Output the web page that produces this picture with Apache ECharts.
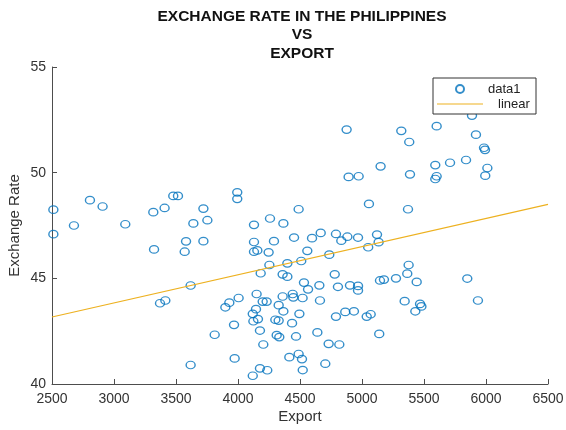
<!DOCTYPE html>
<html>
<head>
<meta charset="utf-8">
<script src="https://cdn.jsdelivr.net/npm/echarts@6/dist/echarts.min.js"></script>
<style>
html,body{margin:0;padding:0;background:#fff;}
#chart{width:566px;height:430px;}
</style>
</head>
<body>
<div id="chart"></div>
<script>
var titleLines = ['EXCHANGE RATE IN THE PHILIPPINES', 'VS', 'EXPORT'];
var xName = 'Export';
var yName = 'Exchange Rate';
var seriesNames = ['data1', 'linear'];

var exportVals = [
  2511, 2511, 2677, 2806, 2908, 3091, 3317, 3408, 3478, 3516,
  3640, 3721, 3753, 3323, 3581, 3570, 3721, 3618, 3371, 3414,
  3812, 3618, 3994, 3994, 4129, 4258, 4366, 4489, 4876, 4892,
  4973, 5150, 5056, 5887, 5317, 5602, 5381, 5919, 5984, 5992,
  5591, 5710, 5839, 6011, 5387, 5602, 5591, 5994, 5371, 4129,
  4129, 4156, 4290, 4247, 4452, 4597, 4667, 4790, 4833, 4882,
  4968, 5121, 5134, 5050, 4559, 4736, 4183, 4253, 4398, 4510,
  4360, 4398, 4780, 5145, 5177, 4532, 4565, 4656, 4806, 4903,
  4968, 4968, 4150, 4199, 4231, 4005, 3930, 3898, 4360, 4441,
  4446, 4521, 4661, 4328, 4145, 4366, 4119, 4161, 4124, 4301,
  4328, 4495, 4436, 4865, 4935, 4790, 5038, 5070, 3968, 4177,
  4640, 4312, 4333, 4468, 5139, 4204, 4731, 4817, 3973, 4414,
  4489, 4516, 4704, 4177, 4236, 4522, 4119, 5376, 5365, 5441,
  5274, 5849, 5344, 5468, 5479, 5430, 5935
];
var rateVals = [
  48.25, 47.09, 47.5, 48.7, 48.4, 47.56, 48.13, 48.33, 48.9, 48.9,
  47.6, 48.3, 47.75, 46.37, 46.75, 46.26, 46.76, 44.66, 43.82, 43.95,
  42.33, 40.9, 49.07, 48.76, 47.53, 47.83, 47.6, 48.27, 52.04, 49.8,
  49.83, 50.3, 48.52, 52.7, 51.98, 52.2, 51.45, 51.8, 51.18, 51.08,
  50.36, 50.47, 50.6, 50.22, 49.92, 49.83, 49.7, 49.86, 48.27, 46.72,
  46.26, 46.32, 46.76, 46.23, 46.93, 46.9, 47.15, 47.1, 46.78, 46.97,
  46.93, 47.07, 46.71, 46.47, 46.3, 46.12, 45.24, 45.63, 45.71, 45.82,
  45.19, 45.08, 45.19, 44.9, 44.94, 44.8, 44.48, 44.67, 44.6, 44.67,
  44.64, 44.43, 44.26, 43.9, 43.9, 44.07, 43.85, 43.63, 44.14, 44.26,
  44.1, 44.07, 43.95, 43.73, 43.54, 43.44, 43.32, 43.07, 42.97, 43.04,
  43.0, 43.32, 42.88, 43.41, 43.44, 43.19, 43.19, 43.3, 42.8, 42.53,
  42.44, 42.31, 42.22, 42.25, 42.37, 41.87, 41.9, 41.87, 41.21, 41.27,
  41.42, 41.18, 40.96, 40.74, 40.65, 40.66, 40.39, 45.63, 45.22, 44.83,
  45.0, 44.99, 43.92, 43.79, 43.67, 43.44, 43.95
];
var fitX = [2500, 6500];
var fitY = [43.17, 48.5];

var xTicks = {min: 2500, max: 6500, interval: 500};
var yTicks = {min: 40, max: 55, interval: 5};

var scatterData = exportVals.map(function (v, i) { return [v, rateVals[i]]; });
var lineData = fitX.map(function (v, i) { return [v, fitY[i]]; });

var FONT = '"Liberation Sans", Arial, Helvetica, sans-serif';
var AXIS_COLOR = '#4d4d4d';
var LABEL_COLOR = '#333333';

function plainNum(v) { return String(v); }

var chart = echarts.init(document.getElementById('chart'), null, {renderer: 'canvas'});
chart.setOption({
  animation: false,
  backgroundColor: '#ffffff',
  graphic: [{
    type: 'text',
    x: 302,
    y: 7,
    style: {
      text: titleLines.join('\n'),
      align: 'center',
      verticalAlign: 'top',
      fontFamily: FONT,
      fontSize: 15.5,
      fontWeight: 'bold',
      lineHeight: 18.5,
      fill: '#111111'
    }
  }],
  grid: {left: 52, right: 18, top: 67, bottom: 46, containLabel: false, outerBoundsMode: 'none'},
  xAxis: {
    type: 'value',
    min: xTicks.min, max: xTicks.max, interval: xTicks.interval,
    name: xName,
    nameLocation: 'middle',
    nameGap: 25,
    nameMoveOverlap: false,
    nameTextStyle: {fontFamily: FONT, fontSize: 15, color: LABEL_COLOR},
    axisLine: {show: true, lineStyle: {color: AXIS_COLOR, width: 1}},
    axisTick: {show: true, inside: true, length: 5, lineStyle: {color: AXIS_COLOR}},
    axisLabel: {fontFamily: FONT, fontSize: 14, color: LABEL_COLOR, margin: 8, formatter: plainNum, showMinLabel: true, showMaxLabel: true},
    splitLine: {show: false}
  },
  yAxis: {
    type: 'value',
    min: yTicks.min, max: yTicks.max, interval: yTicks.interval,
    name: yName,
    nameLocation: 'middle',
    nameGap: 30,
    nameMoveOverlap: false,
    nameTextStyle: {fontFamily: FONT, fontSize: 15, color: LABEL_COLOR},
    axisLine: {show: true, lineStyle: {color: AXIS_COLOR, width: 1}},
    axisTick: {show: true, inside: true, length: 5, lineStyle: {color: AXIS_COLOR}},
    axisLabel: {fontFamily: FONT, fontSize: 14, color: LABEL_COLOR, margin: 6, formatter: plainNum},
    splitLine: {show: false}
  },
  legend: {
    orient: 'vertical',
    left: 433,
    top: 78,
    backgroundColor: '#ffffff',
    borderColor: '#333333',
    borderWidth: 1,
    borderRadius: 0,
    padding: [4, 3, 3, 4],
    itemWidth: 46,
    itemHeight: 8,
    itemGap: 1,
    selectedMode: false,
    formatter: function (name) {
      return name === seriesNames[0] ? '{a|' + name + '}' : '{b|' + name + '}';
    },
    textStyle: {
      fontFamily: FONT, fontSize: 13, color: '#222222', lineHeight: 14,
      rich: {
        a: {fontFamily: FONT, fontSize: 13, color: '#222222', lineHeight: 14, width: 45, align: 'left'},
        b: {fontFamily: FONT, fontSize: 13, color: '#222222', lineHeight: 14, width: 35, align: 'left', padding: [0, 0, 0, 10]}
      }
    },
    data: [
      {name: seriesNames[0], icon: 'circle'},
      {name: seriesNames[1], icon: 'path://M0,0h46v1.2h-46z'}
    ]
  },
  series: [
    {
      name: seriesNames[0],
      type: 'scatter',
      data: scatterData,
      symbol: 'circle',
      symbolSize: [9, 7.5],
      itemStyle: {color: 'rgba(255,255,255,0)', borderColor: '#0072BD', borderWidth: 1.3},
      z: 2
    },
    {
      name: seriesNames[1],
      type: 'line',
      data: lineData,
      showSymbol: false,
      symbol: 'none',
      lineStyle: {color: '#EDB120', width: 1.2},
      itemStyle: {color: '#EDB120'},
      z: 3
    }
  ]
});
</script>
</body>
</html>
